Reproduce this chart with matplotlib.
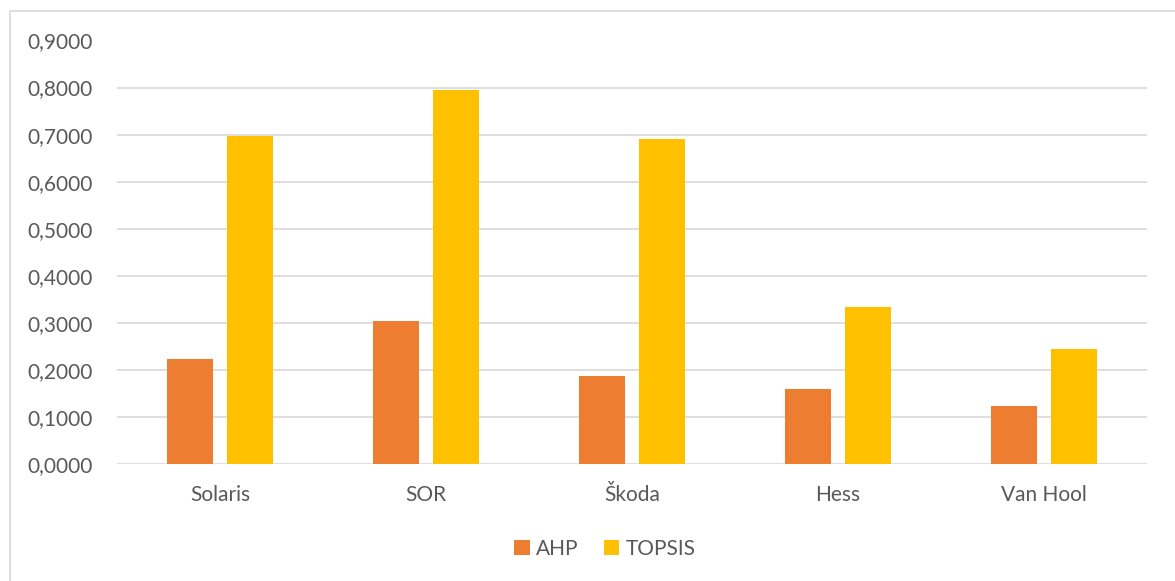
import matplotlib
matplotlib.use("Agg")
import matplotlib.pyplot as plt
from matplotlib.patches import Rectangle
from matplotlib.ticker import FuncFormatter
import numpy as np

categories = ["Solaris", "SOR", "Škoda", "Hess", "Van Hool"]
ahp = [0.223, 0.3045, 0.187, 0.159, 0.123]
topsis = [0.6975, 0.795, 0.690, 0.3335, 0.2443]
series_names = ["AHP", "TOPSIS"]
colors = ["#ED7D31", "#FFC000"]

plt.rcParams["font.family"] = ["Lato", "DejaVu Sans"]

fig = plt.figure(figsize=(11.75, 5.81), dpi=100)
ax = fig.add_axes([117/1175, 1-464/581, (1147-117)/1175, (464-40.5)/581])

x = np.arange(len(categories))
w = 0.223
off = 0.144
ax.bar(x - off, ahp, w, color=colors[0], label=series_names[0], zorder=3)
ax.bar(x + off, topsis, w, color=colors[1], label=series_names[1], zorder=3)

ax.set_xlim(-0.5, len(categories) - 0.5)
ax.set_ylim(0, 0.9)
ax.set_yticks(np.arange(0, 0.91, 0.1))
ax.yaxis.set_major_formatter(FuncFormatter(lambda v, p: f"{v:.4f}".replace(".", ",")))
ax.grid(axis="y", color="#D9D9D9", linewidth=1.2, zorder=0)
for s in ax.spines.values():
    s.set_visible(False)
ax.tick_params(axis="both", length=0, labelsize=15, labelcolor="#595959")
ax.tick_params(axis="y", pad=17.5)
ax.tick_params(axis="x", pad=15)
ax.set_xticks(x)
ax.set_xticklabels(categories)

leg = fig.legend(loc="center", bbox_to_anchor=(605/1175, 1-549/581), ncol=2, frameon=False,
                 fontsize=15, handlelength=0.75, handleheight=0.75, handletextpad=0.3,
                 columnspacing=1.2, labelcolor="#595959")

fig.patches.append(Rectangle((10/1175, -0.1), 1.2, 1-11/581+0.1, transform=fig.transFigure,
                             fill=False, edgecolor="#D9D9D9", linewidth=1.2))

fig.savefig("out.png", dpi=100)
